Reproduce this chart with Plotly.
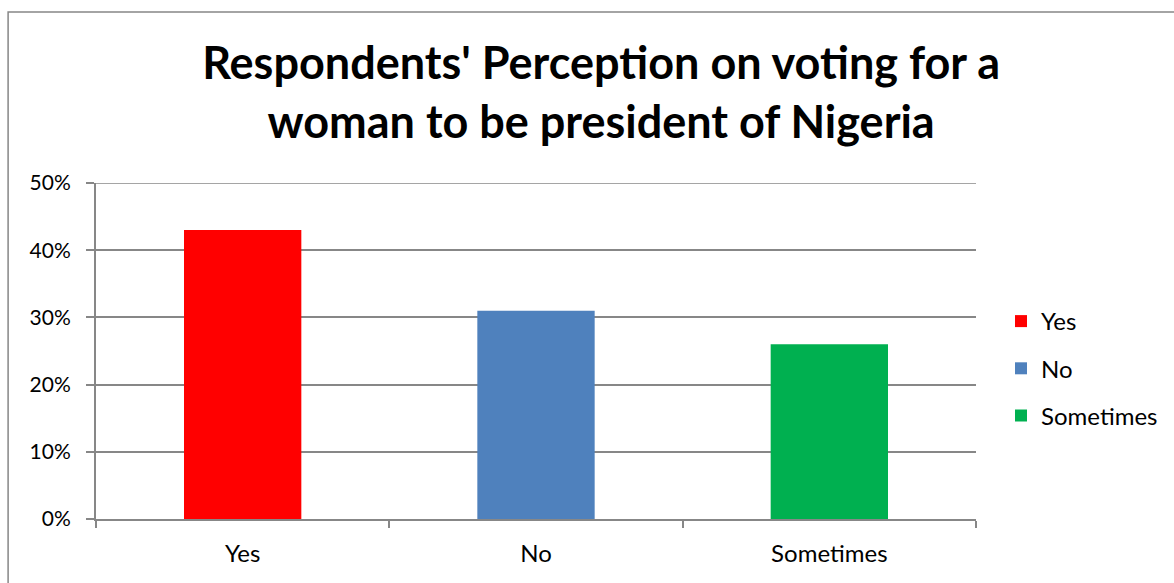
import plotly.graph_objects as go

categories = ["Yes", "No", "Sometimes"]
shares = [43, 31, 26]  # percent of respondents
colors = ["#FF0000", "#4F81BD", "#00B050"]
y_ticks = [0, 10, 20, 30, 40, 50]
y_tick_labels = ["0%", "10%", "20%", "30%", "40%", "50%"]

W, H = 1174, 583
ML, MR, MT, MB = 96, 197, 183, 64
PW, PH = W - ML - MR, H - MT - MB

fig = go.Figure()
for i, (cat, val, col) in enumerate(zip(categories, shares, colors)):
    fig.add_trace(go.Bar(
        x=[cat], y=[val], name=cat, marker=dict(color=col, line=dict(width=0)),
        width=0.4, legendgroup=f"g{i}", hoverinfo="x+y",
    ))

def px_x(p):
    return (p - ML) / PW

def px_y(p):
    return (H - MB - p) / PH

axis_grey = "#878787"
font_family = "Lato, 'Open Sans', sans-serif"

fig.update_layout(
    width=W, height=H,
    margin=dict(l=ML, r=MR, t=MT, b=MB, pad=0),
    paper_bgcolor="white", plot_bgcolor="white",
    barmode="overlay",
    font=dict(family=font_family, color="black", size=24),
    title=dict(
        text="<b>Respondents' Perception on voting for a<br>woman to be president of Nigeria</b>",
        x=0.512, xanchor="center", y=1 - 79 / H, yanchor="top",
        font=dict(size=45, family=font_family, color="black"),
    ),
    legend=dict(
        x=px_x(1001), xanchor="left", y=px_y(299), yanchor="top",
        font=dict(size=24), tracegroupgap=13, itemwidth=30,
        bgcolor="rgba(0,0,0,0)",
    ),
    xaxis=dict(
        type="category", showgrid=False, showline=True, linecolor=axis_grey, linewidth=2,
        ticks="outside", tickson="boundaries", ticklen=7, tickcolor=axis_grey, tickwidth=2,
        tickfont=dict(size=24), ticklabelstandoff=12, fixedrange=True,
    ),
    yaxis=dict(
        range=[0, 50], tickvals=y_ticks, ticktext=y_tick_labels,
        showgrid=True, gridcolor=axis_grey, gridwidth=1.5,
        showline=True, linecolor=axis_grey, linewidth=2,
        ticks="outside", ticklen=8, tickcolor=axis_grey, tickwidth=2,
        tickfont=dict(size=21), ticklabelstandoff=11, zeroline=False, fixedrange=True,
    ),
    shapes=[
        dict(
            type="line", xref="paper", yref="y", x0=0, x1=1, y0=50, y1=50,
            line=dict(color=axis_grey, width=1.5), layer="below",
        ),
        dict(
            type="rect", xref="paper", yref="paper",
            x0=px_x(8), x1=px_x(1200), y0=px_y(600), y1=px_y(12),
            line=dict(color=axis_grey, width=1.5), fillcolor="rgba(0,0,0,0)", layer="below",
        ),
    ],
)

fig.write_html("out.html")
